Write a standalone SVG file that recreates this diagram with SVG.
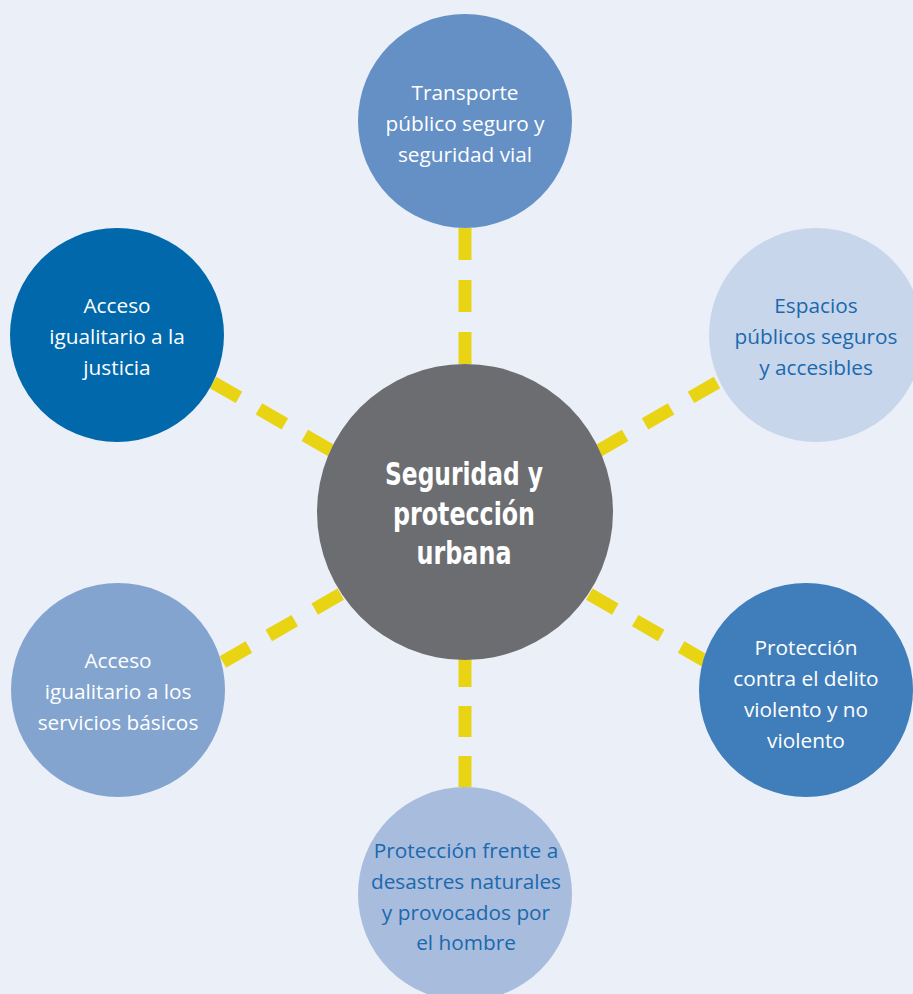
<svg xmlns="http://www.w3.org/2000/svg" width="913" height="994" viewBox="0 0 913 994">
<style>
.bg{fill:#ebeff8}
.con{stroke:#e9d414;stroke-width:13;fill:none}
.t{font-family:"Open Sans","Noto Sans","Liberation Sans",sans-serif;font-size:20.8px;text-anchor:middle}
.w{fill:#ffffff}
.b{fill:#1a69ae}
.c{font-family:"Liberation Sans Narrow","DejaVu Sans Condensed","Open Sans",sans-serif;font-weight:bold;font-size:32px;fill:#ffffff;text-anchor:middle}
</style>
<rect class="bg" x="0" y="0" width="913" height="994"/>
<g id="connectors">
<line class="con" x1="465" y1="228" x2="465" y2="364" stroke-dasharray="32 20"/>
<line class="con" x1="465" y1="787" x2="465" y2="656" stroke-dasharray="31 19"/>
<line class="con" x1="213" y1="382.5" x2="331" y2="450.5" stroke-dasharray="30 23"/>
<line class="con" x1="717" y1="382.5" x2="599" y2="450.5" stroke-dasharray="30 23"/>
<line class="con" x1="222.9" y1="662" x2="340.7" y2="594" stroke-dasharray="30 23"/>
<line class="con" x1="707.1" y1="662" x2="589.3" y2="594" stroke-dasharray="30 23"/>
</g>
<g id="node-top">
<circle cx="465" cy="121" r="107" fill="#6490c5"/>
<text class="t w" x="465" y="100">Transporte</text>
<text class="t w" x="465" y="131">público seguro y</text>
<text class="t w" x="465" y="162">seguridad vial</text>
</g>
<g id="node-upper-left">
<circle cx="117" cy="335" r="107" fill="#0068ab"/>
<text class="t w" x="117" y="313">Acceso</text>
<text class="t w" x="117" y="344">igualitario a la</text>
<text class="t w" x="117" y="375">justicia</text>
</g>
<g id="node-upper-right">
<circle cx="816" cy="335" r="107" fill="#c8d6eb"/>
<text class="t b" x="816" y="313">Espacios</text>
<text class="t b" x="816" y="344">públicos seguros</text>
<text class="t b" x="816" y="375">y accesibles</text>
</g>
<g id="node-center">
<circle cx="465" cy="512" r="148" fill="#6c6d71"/>
<text class="c" x="464" y="485" textLength="158" lengthAdjust="spacingAndGlyphs">Seguridad y</text>
<text class="c" x="464" y="525" textLength="142" lengthAdjust="spacingAndGlyphs">protección</text>
<text class="c" x="464" y="564" textLength="95" lengthAdjust="spacingAndGlyphs">urbana</text>
</g>
<g id="node-lower-left">
<circle cx="118" cy="690" r="107" fill="#82a4cf"/>
<text class="t w" x="118" y="668">Acceso</text>
<text class="t w" x="118" y="699">igualitario a los</text>
<text class="t w" x="118" y="730">servicios básicos</text>
</g>
<g id="node-lower-right">
<circle cx="806" cy="690" r="107" fill="#3f7ebb"/>
<text class="t w" x="806" y="655">Protección</text>
<text class="t w" x="806" y="686">contra el delito</text>
<text class="t w" x="806" y="717">violento y no</text>
<text class="t w" x="806" y="748">violento</text>
</g>
<g id="node-bottom">
<circle cx="465" cy="894" r="107" fill="#a8bcdd"/>
<text class="t b" x="466" y="858">Protección frente a</text>
<text class="t b" x="466" y="889">desastres naturales</text>
<text class="t b" x="466" y="920">y provocados por</text>
<text class="t b" x="466" y="950">el hombre</text>
</g>
</svg>
